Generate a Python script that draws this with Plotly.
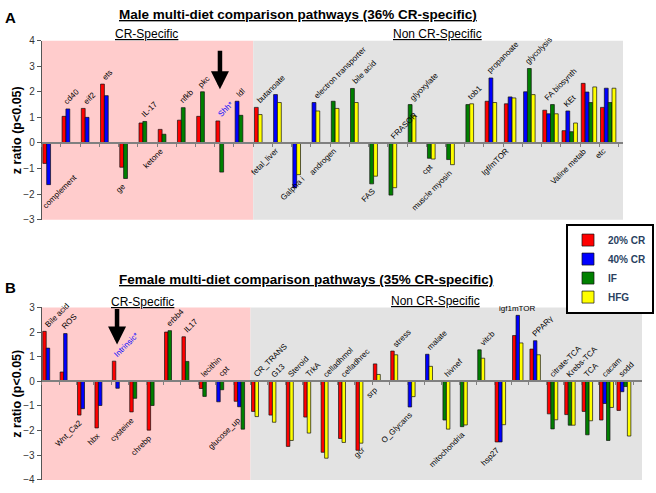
import plotly.graph_objects as go

N = None
# ---------------- Panel A data (male) ----------------
A_categories = ["complement", "cd40", "eif2", "ets", "ge", "IL-17", "ketone", "nfkb", "pkc", "Shh*", "ldl",
                "butanoate", "fetal_liver", "Galpha i", "electron transporter", "androgen", "bile acid", "FAS",
                "FRASOR", "glyoxylate", "cpt", "muscle myosin", "tob1", "propanoate", "Igf/mTOR", "glycolysis",
                "FA biosynth", "KEt", "Valine metab", "etc"]
A_cr_specific_count = 11
A_cr20 = [-0.80, 1.04, 1.35, 2.30, -0.95, 0.78, 0.53, 0.89, 1.04, 0.86, N,
          1.39, N, N, N, N, N, N, N, N, N, N, N, 1.63, 1.53, N, 1.28, 0.48, 2.33, 1.39]
A_cr40 = [-1.63, 1.33, 1.00, 1.85, N, N, N, N, N, N, 1.63,
          N, 1.89, -1.75, 1.58, N, N, N, N, N, N, N, N, 2.54, 1.80, 2.00, 1.14, 1.25, 1.99, 2.14]
A_if = [N, N, N, N, -1.39, 0.84, 0.34, 1.38, 2.00, -1.14, 1.08,
        N, N, N, N, 1.63, 2.13, -1.60, -2.04, 1.50, -0.60, -0.65, 1.50, N, N, 2.91, 1.50, 0.44, 1.58, 1.58]
A_hfg = [N] * 11 + [1.11, 1.58, -1.24, 1.25, 1.35, 1.58, -1.30, -1.75, 1.08, -0.63, -0.85, 1.53, 1.58, 1.76,
                    1.89, 1.14, 0.78, 2.19, 2.14]

# ---------------- Panel B data (female) ----------------
B_categories = ["Bile acid", "ROS", "Wnt_Ca2", "hbx", "Intrinsic*", "cysteine", "chrebp", "erbb4", "IL17",
                "lecithin", "cpt", "glucose_up",
                "CR_TRANS", "G13", "Steroid", "TrkA", "celladhmol", "celladhrec", "gcr", "srp", "stress",
                "O_Glycans", "malate", "hivnef", "mitochondria", "vitcb", "hsp27", "igf1mTOR", "PPARγ",
                "citrate-TCA", "Krebs-TCA", "TCA", "cacam", "sodd"]
B_cr_specific_count = 12
B_cr20 = [2.03, 0.38, -1.37, -1.89, 0.82, -1.24, -1.98, 2.00, 1.81, -0.29, N, -0.81,
          -1.22, -1.37, -2.64, -1.45, -2.88, -2.32, -2.80, 0.71, 1.23, N, N, N, N, N, -2.46, 1.86, 1.31,
          -1.32, -1.35, -1.22, -1.57, -1.18]
B_cr40 = [1.35, 1.94, -1.11, -0.98, -0.28, N, N, N, N, N, -0.83, -1.03,
          N, N, N, N, N, N, N, N, N, -1.04, 1.10, N, N, N, -2.46, 2.68, 1.65, N, N, N, -0.90, -0.42]
B_if = [N, N, N, N, N, -0.69, -0.98, 2.06, 0.81, -0.61, -0.34, -1.94,
        N, N, N, N, N, N, N, N, N, N, N, -1.57, -1.84, 1.28, N, N, N, -1.93, -1.78, -2.17, -2.40, -0.21]
B_hfg = [N] * 12 + [-1.43, -1.66, -2.40, -2.10, -3.12, -2.48, -2.51, 0.28, 1.08, -0.62, 0.61, -1.94, -1.77,
                    0.94, -1.76, 1.56, 1.08, -1.56, -1.78, -1.60, -1.06, -2.22]

series_names = ["20% CR", "40% CR", "IF", "HFG"]
series_colors = ["#FF0000", "#0000FF", "#008000", "#FFFF00"]

# label placement hints (u = above, d = below, h = horizontal above)
A_label_side = ["d", "u", "u", "u", "d", "u", "d", "u", "u", "u", "u",
                "u", "d", "d", "u", "d", "u", "d", "u", "u", "d", "d", "u", "u", "d", "u", "u", "u", "d", "d"]
B_label_side = ["u", "u", "d", "d", "u", "d", "d", "u", "u", "u", "u", "d",
                "u", "u", "u", "u", "u", "u", "d", "d", "u", "d", "u", "u", "d", "u", "d", "h", "u",
                "u", "u", "u", "u", "u"]
A_label_override = {0: (2.0, -1.12), 13: (0.85, -1.2)}
B_label_override = {11: (0.6, -1.35), 18: (0.75, -2.55)}
blue_labels = {"Shh*", "Intrinsic*"}

W, H = 656, 493
FONT = "Arial, Liberation Sans, sans-serif"
BW = 0.2     # bar width in category units
OFF = 0.06   # offset of first bar from category start

fig = go.Figure()


def panel(cats, data, xname, yname, show_legend):
    n = len(cats)
    xs = [[None] * n for _ in data]
    for i in range(n):
        k = 0
        for s in range(len(data)):
            if data[s][i] is not None:
                xs[s][i] = i + OFF + (k + 0.5) * BW
                k += 1
    for s in range(len(data)):
        xx = [x for x, v in zip(xs[s], data[s]) if v is not None]
        yy = [v for v in data[s] if v is not None]
        fig.add_trace(go.Bar(x=xx, y=yy, width=BW, name=series_names[s], legendgroup=series_names[s],
                             showlegend=show_legend, xaxis=xname, yaxis=yname,
                             marker=dict(color=series_colors[s], line=dict(color="#111", width=0.7))))


def labels(cats, data, sides, overrides, xref, yref, font_size=8):
    for i, c in enumerate(cats):
        vals = [d[i] for d in data if d[i] is not None]
        top = max(0, max(vals))
        bot = min(0, min(vals))
        col = "#0000FF" if c in blue_labels else "#000"
        side = sides[i]
        if side == "u":
            kw = dict(x=i, y=top, xanchor="left", yanchor="bottom", textangle=-45, yshift=1)
        elif side == "h":
            kw = dict(x=i + OFF + len(vals) * BW / 2, y=top, xanchor="center", yanchor="bottom",
                      textangle=0, yshift=1)
        else:
            kw = dict(x=i + 0.5, y=bot, xanchor="right", yanchor="top", textangle=-45, yshift=-2)
        if i in overrides:
            dx, yy = overrides[i]
            kw["x"] = i + dx
            kw["y"] = yy
            kw["yshift"] = 0
        fig.add_annotation(text=c, xref=xref, yref=yref, showarrow=False, borderpad=0,
                           font=dict(family=FONT, size=font_size, color=col), **kw)


A_data = [A_cr20, A_cr40, A_if, A_hfg]
B_data = [B_cr20, B_cr40, B_if, B_hfg]

A_xmax = 30.23
B_xmax = 34.5
A_ylim = [-3, 4]
B_ylim = [-4, 3]

panel(A_categories, A_data, "x", "y", True)
panel(B_categories, B_data, "x2", "y2", False)
labels(A_categories, A_data, A_label_side, A_label_override, "x", "y")
labels(B_categories, B_data, B_label_side, B_label_override, "x2", "y2")

# plot area geometry (pixels)
A_left, A_right, A_top, A_bot = 41.7, 623, 35.5, 219
B_left, B_right, B_top, B_bot = 41.7, 642, 309, 485.7
A_dom_y = [1 - A_bot / H, 1 - A_top / H]
B_dom_y = [1 - B_bot / H, 1 - B_top / H]
A_zero = A_dom_y[0] + (0 - A_ylim[0]) / (A_ylim[1] - A_ylim[0]) * (A_dom_y[1] - A_dom_y[0])
B_zero = B_dom_y[0] + (0 - B_ylim[0]) / (B_ylim[1] - B_ylim[0]) * (B_dom_y[1] - B_dom_y[0])

xcommon = dict(showgrid=False, zeroline=False, showline=True, linecolor="#808080", linewidth=1.5,
               ticks="outside", ticklen=3, tickcolor="#808080", showticklabels=False, anchor="free")
ycommon = dict(showgrid=False, zeroline=False, showline=True, linecolor="#555", linewidth=1,
               ticks="outside", ticklen=4, tickcolor="#555", dtick=1,
               tickfont=dict(family=FONT, size=10, color="#333"))

fig.update_layout(
    xaxis=dict(domain=[A_left / W, A_right / W], range=[0, A_xmax], position=A_zero,
               tickvals=list(range(len(A_categories) + 1)), **xcommon),
    yaxis=dict(domain=A_dom_y, range=A_ylim, anchor="x", **ycommon),
    xaxis2=dict(domain=[B_left / W, B_right / W], range=[0, B_xmax], position=B_zero,
                tickvals=list(range(len(B_categories) + 1)), **xcommon),
    yaxis2=dict(domain=B_dom_y, range=B_ylim, anchor="x2", **ycommon),
)

# backgrounds
for xr, yr, ncr, xmax in [("x", "y domain", A_cr_specific_count, A_xmax),
                          ("x2", "y2 domain", B_cr_specific_count, B_xmax)]:
    fig.add_shape(type="rect", xref=xr, yref=yr, x0=0, x1=ncr, y0=0, y1=1, layer="below",
                  fillcolor="#FFCCCC", line=dict(width=0))
    fig.add_shape(type="rect", xref=xr, yref=yr, x0=ncr, x1=xmax, y0=0, y1=1, layer="below",
                  fillcolor="#E3E3E3", line=dict(width=0))


def ann(text, x, y, size, bold=False, angle=0, color="#000"):
    fig.add_annotation(text=text, x=x / W, y=1 - y / H, xref="paper", yref="paper", showarrow=False,
                       xanchor="center", yanchor="middle", textangle=angle,
                       font=dict(family=FONT, size=size, color=color, weight="bold" if bold else "normal"))


ann("A", 10, 12, 15, True)
ann("B", 10, 289, 15, True)
ann("<u>Male multi-diet comparison pathways (36% CR-specific)</u>", 298, 9, 13.5, True)
ann("<u>Female multi-diet comparison pathways (35% CR-specific)</u>", 306, 280, 13.5, True)
ann("<u>CR-Specific</u>", 146, 29, 12)
ann("<u>Non CR-Specific</u>", 437, 29, 12)
ann("<u>CR-Specific</u>", 142, 303, 12)
ann("<u>Non CR-Specific</u>", 435, 302, 12)
ann("z ratio (p&lt;0.05)", 17, (A_top + A_bot) / 2, 12.5, True, -90)
ann("z ratio (p&lt;0.05)", 17, (B_top + B_bot) / 2, 12.5, True, -90)

# arrows marking the highlighted pathways
A_arrow_idx = A_categories.index("Shh*")
B_arrow_idx = B_categories.index("Intrinsic*")
fig.add_annotation(x=A_arrow_idx + 0.27, y=2.1, xref="x", yref="y", ax=0, ay=-40, text="",
                   showarrow=True, arrowhead=2, arrowsize=0.8, arrowwidth=4.5, arrowcolor="#000")
fig.add_annotation(x=B_arrow_idx + 0.33, y=1.5, xref="x2", yref="y2", ax=0, ay=-37, text="",
                   showarrow=True, arrowhead=2, arrowsize=0.8, arrowwidth=4.5, arrowcolor="#000")

fig.update_layout(
    width=W, height=H, margin=dict(l=0, r=0, t=0, b=0),
    paper_bgcolor="white", plot_bgcolor="white", barmode="overlay",
    font=dict(family=FONT),
    legend=dict(x=1 - 2 / W, y=1 - 223 / H, xanchor="right", yanchor="top",
                bordercolor="#000", borderwidth=2, bgcolor="white",
                font=dict(family=FONT, size=10, weight="bold"), tracegroupgap=0,
                itemwidth=30),
)

fig.write_html("out.html", config={"displayModeBar": False},
               post_script="document.body.style.margin='0';")
